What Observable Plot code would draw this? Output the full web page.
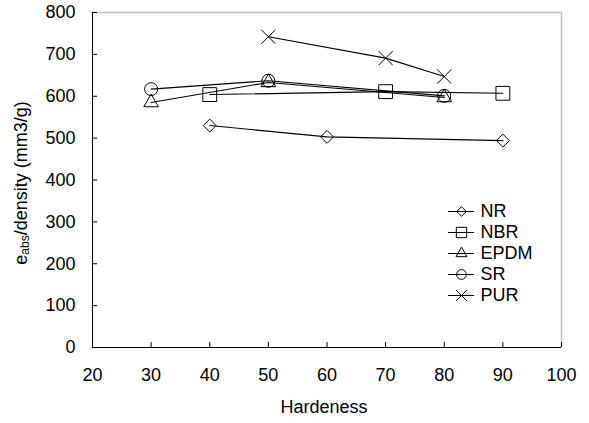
<!DOCTYPE html>
<html><head><meta charset="utf-8">
<script src="https://cdn.jsdelivr.net/npm/d3@7"></script>
<script src="https://cdn.jsdelivr.net/npm/@observablehq/plot@0.6"></script>
<style>
body{margin:0;background:#fff;font-family:"Liberation Sans",Arial,sans-serif}
#wrap{position:relative;width:589px;height:423px}
#legend{position:absolute;left:440px;top:188px}
</style></head><body><div id="wrap"><div id="chart"></div><div id="legend"></div></div>
<script>
const series = ["NR", "NBR", "EPDM", "SR", "PUR"];
const hardnessNR = [40, 60, 90];   const valuesNR = [530, 503, 494];
const hardnessNBR = [40, 70, 90];  const valuesNBR = [604, 611, 607];
const hardnessEPDM = [30, 50, 80]; const valuesEPDM = [585, 633, 597];
const hardnessSR = [30, 50, 80];   const valuesSR = [617, 637, 601];
const hardnessPUR = [50, 70, 80];  const valuesPUR = [742, 691, 647];
const xTicks = [20, 30, 40, 50, 60, 70, 80, 90, 100];
const yTicks = [0, 100, 200, 300, 400, 500, 600, 700, 800];
const xTitle = "Hardeness";

const raw = {
  NR: [hardnessNR, valuesNR], NBR: [hardnessNBR, valuesNBR], EPDM: [hardnessEPDM, valuesEPDM],
  SR: [hardnessSR, valuesSR], PUR: [hardnessPUR, valuesPUR]
};
const data = series.flatMap(s => raw[s][0].map((h, i) => ({series: s, x: h, y: raw[s][1][i]})));

const sym = {
  NR: {symbol: "diamond2", r: 5.8},
  NBR: {symbol: "square2", r: 8.8},
  EPDM: {symbol: "triangle2", r: 7.0},
  SR: {symbol: "circle", r: 6.5},
  PUR: {symbol: "times", r: 6.5}
};
const FONT = "'Liberation Sans', Arial, sans-serif";

const chart = Plot.plot({
  width: 589, height: 423,
  marginLeft: 92, marginRight: 28, marginTop: 12, marginBottom: 76,
  x: {domain: [20, 100]},
  y: {domain: [0, 800]},
  style: {fontFamily: FONT, fontSize: "18px", color: "black", background: "white"},
  marks: [
    Plot.ruleY([800], {stroke: "#c0c0c0", strokeWidth: 1.5}),
    Plot.ruleX([100], {stroke: "#c0c0c0", strokeWidth: 1.5}),
    Plot.ruleX([20], {stroke: "black"}),
    Plot.ruleY([0], {stroke: "black"}),
    Plot.axisX({ticks: xTicks, tickSize: -5, tickPadding: 26, tickFormat: d => String(d), label: null}),
    Plot.axisY({ticks: yTicks, tickSize: -5, tickPadding: 22, tickFormat: d => String(d), label: null}),
    Plot.line(data, {x: "x", y: "y", z: "series", stroke: "black", strokeWidth: 1.1}),
    ...series.map(s => Plot.dot(data.filter(d => d.series === s), {
      x: "x", y: "y", symbol: () => sym[s].symbol, r: sym[s].r, stroke: "black", fill: "none", strokeWidth: 1
    }))
  ]
});
document.getElementById("chart").appendChild(chart);

const svg = d3.select(chart);
svg.append("text")
  .attr("x", 324).attr("y", 407)
  .attr("text-anchor", "middle").attr("dominant-baseline", "central")
  .style("font-size", "18px").style("font-family", FONT)
  .text(xTitle);
const yt = svg.append("text")
  .attr("transform", "translate(21,183) rotate(-90)")
  .attr("text-anchor", "middle").attr("dominant-baseline", "central")
  .style("font-size", "18px").style("font-family", FONT);
yt.append("tspan").text("e");
yt.append("tspan").attr("dy", 4).style("font-size", "12px").text("abs");
yt.append("tspan").attr("dy", -4).text("/density (mm3/g)");

const legend = Plot.plot({
  width: 130, height: 130, margin: 0,
  x: {domain: [0, 1], range: [8, 34], axis: null},
  y: {type: "point", domain: series, range: [12.7, 117.7], axis: null},
  style: {fontFamily: FONT, fontSize: "18px", color: "black", background: "transparent"},
  marks: [
    Plot.ruleY(series, {y: d => d, x1: 0, x2: 1, stroke: "black", strokeWidth: 1}),
    ...series.map(s => Plot.dot([s], {
      x: 0.5, y: d => d, symbol: () => sym[s].symbol, r: sym[s].r * 0.75, stroke: "black", fill: "none", strokeWidth: 1
    })),
    Plot.text(series, {x: 1, y: d => d, text: d => d, dx: 6, textAnchor: "start", fontSize: 18})
  ]
});
document.getElementById("legend").appendChild(legend);
</script></body></html>
